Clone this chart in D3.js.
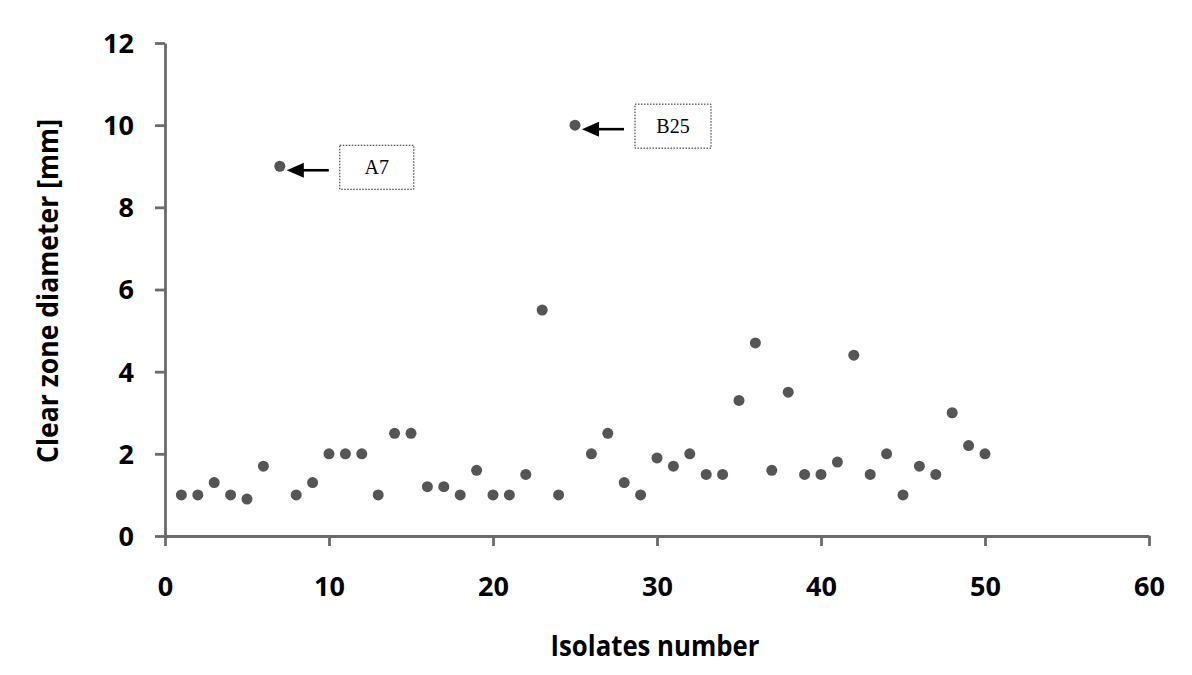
<!DOCTYPE html>
<html>
<head>
<meta charset="utf-8">
<script src="https://cdn.jsdelivr.net/npm/d3@7"></script>
<style>
  html, body { margin: 0; padding: 0; background: #ffffff; }
  svg { display: block; }
</style>
</head>
<body>
<svg id="chart" width="1192" height="675"></svg>
<script>
// Isolate numbers and measured clear zone diameters (mm)
const isolates = [1,2,3,4,5,6,7,8,9,10,11,12,13,14,15,16,17,18,19,20,21,22,23,24,25,
                  26,27,28,29,30,31,32,33,34,35,36,37,38,39,40,41,42,43,44,45,46,47,48,49,50];
const diameters = [1,1,1.3,1,0.9,1.7,9,1,1.3,2,2,2,1,2.5,2.5,1.2,1.2,1,1.6,1,1,1.5,5.5,1,10,
                   2,2.5,1.3,1,1.9,1.7,2,1.5,1.5,3.3,4.7,1.6,3.5,1.5,1.5,1.8,4.4,1.5,2,1,1.7,1.5,3,2.2,2];
const xTicks = [0,10,20,30,40,50,60];
const yTicks = [0,2,4,6,8,10,12];
// Labelled isolates
const callouts = [
  { label: "A7",  isolate: 7 },
  { label: "B25", isolate: 25 }
];

const svg = d3.select("#chart");
const axisColor = "#6b6b6b";
const dotColor = "#555555";
const sansBold = "'Open Sans', 'DejaVu Sans', sans-serif";

const x = d3.scaleLinear().domain([0, 60]).range([165, 1149]);
const y = d3.scaleLinear().domain([0, 12]).range([536, 43]);

// X axis
const gx = svg.append("g")
  .attr("transform", `translate(0,${y(0)})`)
  .call(d3.axisBottom(x).tickValues(xTicks).tickSize(10).tickSizeOuter(0));
gx.select(".domain").attr("stroke", axisColor).attr("stroke-width", 2.8);
gx.selectAll(".tick line").attr("stroke", axisColor).attr("stroke-width", 2.8);
gx.selectAll(".tick text")
  .attr("y", 51).attr("dy", "0.35em")
  .attr("fill", "#000")
  .style("font-family", sansBold).style("font-weight", 700).style("font-size", "27px");

// Y axis
const gy = svg.append("g")
  .attr("transform", `translate(${x(0)},0)`)
  .call(d3.axisLeft(y).tickValues(yTicks).tickSize(10).tickSizeOuter(0));
gy.select(".domain").attr("stroke", axisColor).attr("stroke-width", 2.8);
gy.selectAll(".tick line").attr("stroke", axisColor).attr("stroke-width", 2.8);
gy.selectAll(".tick text")
  .attr("x", -31).attr("dy", "0.35em")
  .attr("fill", "#000")
  .style("font-family", sansBold).style("font-weight", 700).style("font-size", "27px");

// Axis titles
svg.append("text")
  .attr("x", 655).attr("y", 656)
  .attr("text-anchor", "middle")
  .attr("textLength", 209).attr("lengthAdjust", "spacingAndGlyphs")
  .style("font-family", sansBold).style("font-weight", 700).style("font-size", "28px")
  .text("Isolates number");

svg.append("text")
  .attr("transform", "translate(58,291) rotate(-90)")
  .attr("text-anchor", "middle")
  .attr("textLength", 344).attr("lengthAdjust", "spacingAndGlyphs")
  .style("font-family", sansBold).style("font-weight", 700).style("font-size", "28px")
  .text("Clear zone diameter [mm]");

// Data points
svg.append("g")
  .selectAll("circle")
  .data(isolates.map((d, i) => ({ n: d, v: diameters[i] })))
  .join("circle")
  .attr("cx", d => x(d.n))
  .attr("cy", d => y(d.v))
  .attr("r", 5.5)
  .attr("fill", dotColor);

// Arrowhead marker
svg.append("defs").append("marker")
  .attr("id", "arrowhead")
  .attr("viewBox", "0 0 10 10")
  .attr("refX", 0).attr("refY", 5)
  .attr("markerUnits", "userSpaceOnUse")
  .attr("markerWidth", 17).attr("markerHeight", 15)
  .attr("orient", "auto-start-reverse")
  .append("path")
  .attr("d", "M10,0 L0,5 L10,10 Z")
  .attr("fill", "#000");

// Callouts: arrow pointing at the isolate plus a dotted label box
const ann = svg.append("g");
callouts.forEach(c => {
  const v = diameters[isolates.indexOf(c.isolate)];
  const px = x(c.isolate), py = y(v) + 4;
  ann.append("line")
    .attr("x1", px + 49).attr("y1", py)
    .attr("x2", px + 22).attr("y2", py)
    .attr("stroke", "#000").attr("stroke-width", 2.6);
  ann.append("path")
    .attr("d", `M${px + 7},${py} L${px + 24},${py - 7.5} L${px + 24},${py + 7.5} Z`)
    .attr("fill", "#000");
  const bw = c.label.length > 2 ? 76 : 74;
  const bx = px + 60, by = py - 25;
  ann.append("rect")
    .attr("x", bx).attr("y", by)
    .attr("width", bw).attr("height", 44)
    .attr("fill", "#fff")
    .attr("stroke", "#222").attr("stroke-width", 1)
    .attr("stroke-dasharray", "1.5,1.5");
  ann.append("text")
    .attr("x", bx + bw / 2).attr("y", by + 22)
    .attr("dy", "0.35em")
    .attr("text-anchor", "middle")
    .style("font-family", "'Liberation Serif', 'Times New Roman', serif")
    .style("font-size", "20px")
    .attr("fill", "#000")
    .text(c.label);
});
</script>
</body>
</html>
